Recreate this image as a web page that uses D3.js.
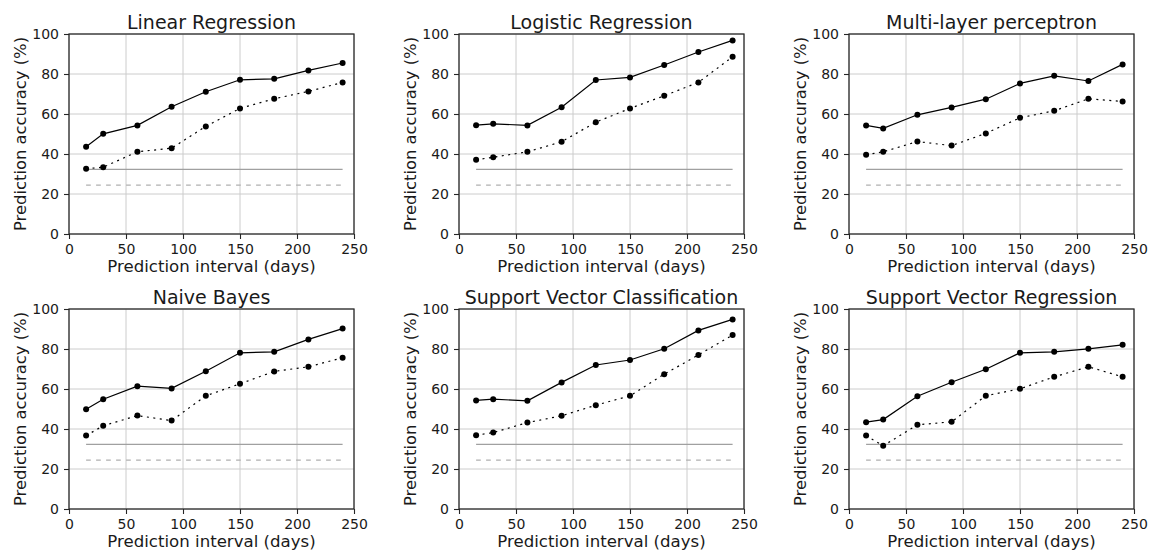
<!DOCTYPE html>
<html>
<head>
<meta charset="utf-8">
<script src="https://cdn.jsdelivr.net/npm/d3@7"></script>
<style>
  body { margin: 0; background: #fff; }
  svg { display: block; font-family: "DejaVu Sans", sans-serif; }
</style>
</head>
<body>
<div id="chart"></div>
<script>
// prediction intervals (days)
const intervals = [15, 30, 60, 90, 120, 150, 180, 210, 240];
const titles = ['Linear Regression', 'Logistic Regression', 'Multi-layer perceptron',
  'Naive Bayes', 'Support Vector Classification', 'Support Vector Regression'];
// solid line series
const solidAcc = [
  [43.6, 50.1, 54.3, 63.6, 71.1, 77.1, 77.6, 81.8, 85.5],
  [54.4, 55.1, 54.3, 63.4, 77.0, 78.3, 84.5, 91.0, 96.8],
  [54.3, 52.8, 59.6, 63.3, 67.4, 75.3, 79.1, 76.5, 84.8],
  [49.9, 54.9, 61.4, 60.3, 68.9, 78.1, 78.6, 84.8, 90.2],
  [54.3, 54.9, 54.1, 63.3, 72.0, 74.5, 80.1, 89.3, 94.8],
  [43.4, 44.7, 56.4, 63.4, 69.9, 78.1, 78.6, 80.1, 82.1]
];
// dotted line series
const dottedAcc = [
  [32.6, 33.4, 41.1, 42.9, 53.8, 62.8, 67.6, 71.3, 75.8],
  [37.1, 38.4, 41.1, 46.1, 55.9, 62.8, 69.1, 75.8, 88.6],
  [39.6, 41.1, 46.2, 44.2, 50.3, 58.1, 61.6, 67.6, 66.3],
  [36.7, 41.6, 46.7, 44.2, 56.6, 62.6, 68.8, 71.1, 75.6],
  [36.9, 38.2, 43.2, 46.6, 51.9, 56.6, 67.4, 77.0, 87.0],
  [36.7, 31.6, 42.1, 43.6, 56.6, 60.1, 66.1, 71.1, 66.1]
];
// baseline reference levels
const baselineSolid = 32.3;
const baselineDashed = 24.4;
const xTicks = [0, 50, 100, 150, 200, 250];
const yTicks = [0, 20, 40, 60, 80, 100];

const width = 1162, height = 551;
const plotW = 285, plotH = 200;
const lefts = [69, 459, 849];
const tops = [34, 309];

const svg = d3.select('#chart').append('svg')
  .attr('width', width).attr('height', height);

const x = d3.scaleLinear().domain([0, 250]).range([0, plotW]);
const y = d3.scaleLinear().domain([0, 100]).range([plotH, 0]);

titles.forEach((title, i) => {
  const ox = lefts[i % 3], oy = tops[Math.floor(i / 3)];
  const g = svg.append('g').attr('transform', `translate(${ox},${oy})`);

  // grid
  g.append('g').selectAll('line').data(xTicks).enter().append('line')
    .attr('x1', d => x(d)).attr('x2', d => x(d)).attr('y1', 0).attr('y2', plotH)
    .attr('stroke', '#cccccc').attr('stroke-width', 1);
  g.append('g').selectAll('line').data(yTicks).enter().append('line')
    .attr('y1', d => y(d)).attr('y2', d => y(d)).attr('x1', 0).attr('x2', plotW)
    .attr('stroke', '#cccccc').attr('stroke-width', 1);

  // reference lines
  const xr = d3.extent(intervals);
  g.append('line').attr('x1', x(xr[0])).attr('x2', x(xr[1]))
    .attr('y1', y(baselineSolid)).attr('y2', y(baselineSolid))
    .attr('stroke', '#a0a0a0').attr('stroke-width', 1.2);
  g.append('line').attr('x1', x(xr[0])).attr('x2', x(xr[1]))
    .attr('y1', y(baselineDashed)).attr('y2', y(baselineDashed))
    .attr('stroke', '#b0b0b0').attr('stroke-width', 1.2)
    .attr('stroke-dasharray', '4.7,5.3');

  const line = d3.line().x((d, j) => x(intervals[j])).y(d => y(d));
  g.append('path').datum(solidAcc[i]).attr('d', line)
    .attr('fill', 'none').attr('stroke', '#000').attr('stroke-width', 1.2);
  g.append('path').datum(dottedAcc[i]).attr('d', line)
    .attr('fill', 'none').attr('stroke', '#000').attr('stroke-width', 1.2)
    .attr('stroke-dasharray', '2,4.5');

  [solidAcc[i], dottedAcc[i]].forEach(s => {
    g.append('g').selectAll('circle').data(s).enter().append('circle')
      .attr('cx', (d, j) => x(intervals[j])).attr('cy', d => y(d))
      .attr('r', 3).attr('fill', '#000');
  });

  // axes
  const xAxis = g.append('g').attr('transform', `translate(0,${plotH})`)
    .call(d3.axisBottom(x).tickValues(xTicks).tickSize(5).tickPadding(5));
  const yAxis = g.append('g')
    .call(d3.axisLeft(y).tickValues(yTicks).tickSize(5).tickPadding(5));
  [xAxis, yAxis].forEach(a => {
    a.select('.domain').remove();
    a.selectAll('line').attr('stroke', '#262626').attr('stroke-width', 1.1);
    a.selectAll('text').attr('font-size', '14px').attr('fill', '#1a1a1a')
      .attr('font-family', '"DejaVu Sans", sans-serif');
  });

  // frame
  g.append('rect').attr('width', plotW).attr('height', plotH)
    .attr('fill', 'none').attr('stroke', '#262626').attr('stroke-width', 1.25);

  g.append('text').attr('x', plotW / 2).attr('y', -5)
    .attr('text-anchor', 'middle').attr('font-size', '19px').attr('fill', '#1a1a1a')
    .text(title);
  g.append('text').attr('x', plotW / 2).attr('y', plotH + 37.5)
    .attr('text-anchor', 'middle').attr('font-size', '16.6px').attr('fill', '#1a1a1a')
    .text('Prediction interval (days)');
  g.append('text').attr('transform', `translate(-43.5,${plotH / 2}) rotate(-90)`)
    .attr('text-anchor', 'middle').attr('font-size', '16.4px').attr('fill', '#1a1a1a')
    .text('Prediction accuracy (%)');
});
</script>
</body>
</html>
